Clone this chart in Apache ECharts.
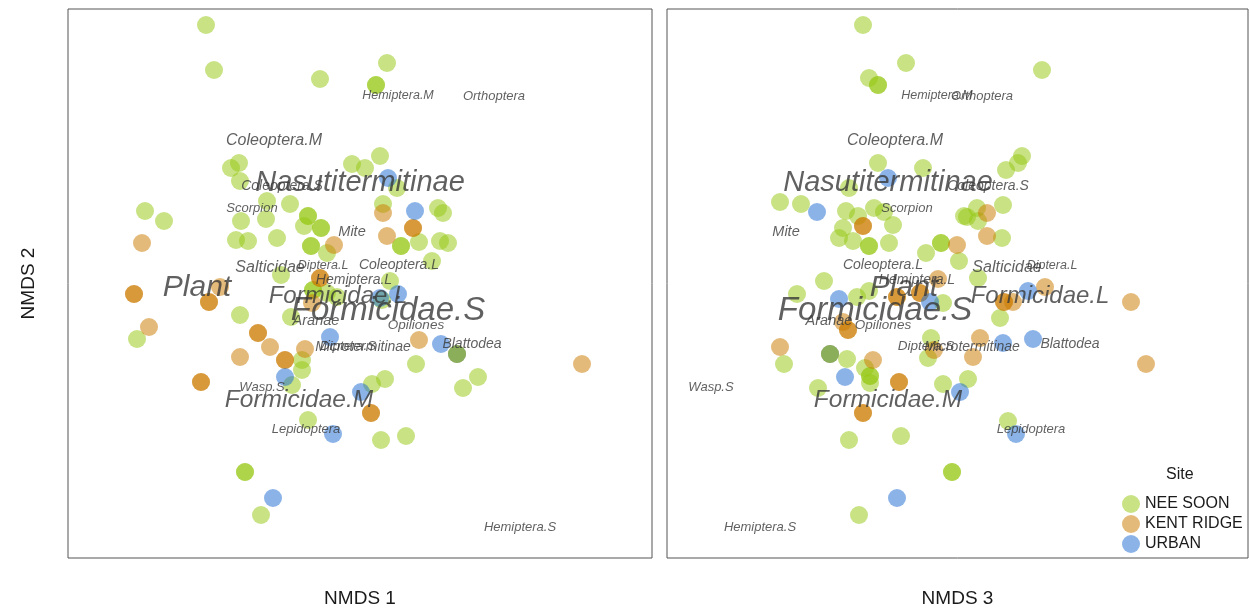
<!DOCTYPE html>
<html>
<head>
<meta charset="utf-8">
<title>NMDS ordination by site</title>
<script src="https://cdn.jsdelivr.net/npm/echarts@6/dist/echarts.min.js"></script>
<style>
  html, body { margin: 0; padding: 0; background: #ffffff; }
  #chart { width: 1250px; height: 609px; }
</style>
</head>
<body>
<div id="chart"></div>
<script>
// ---- Site scores: [NMDS axis, NMDS 2] ----
const siteNames = ['NEE SOON', 'KENT RIDGE', 'URBAN'];

// Panel 1: NMDS 1 vs NMDS 2
const neeSoon12 = [
  [-1.54, 2.59], [-1.46, 2.14], [-0.40, 2.05], [0.27, 2.21], [0.16, 1.99], [0.16, 1.99],
  [-1.29, 1.16], [-1.21, 1.21], [-1.20, 1.03], [-0.08, 1.20], [0.05, 1.16], [0.20, 1.28],
  [0.37, 0.96], [-2.15, 0.73], [-1.96, 0.63], [-0.93, 0.83], [-0.70, 0.80], [-1.19, 0.63],
  [-0.94, 0.65], [-0.52, 0.68], [-0.52, 0.68], [-0.56, 0.58], [-0.39, 0.56], [-0.39, 0.56],
  [-1.24, 0.44], [-1.12, 0.43], [-0.83, 0.46], [-0.49, 0.38], [-0.49, 0.38], [-0.33, 0.31],
  [0.23, 0.80], [0.78, 0.76], [0.83, 0.71], [0.41, 0.38], [0.41, 0.38], [0.59, 0.42],
  [0.80, 0.43], [0.88, 0.41], [0.72, 0.23], [-0.79, 0.09], [0.30, 0.03], [-0.47, -0.06],
  [-0.47, -0.06], [-0.33, -0.09], [-0.23, -0.13], [0.22, -0.16], [-1.20, -0.31], [-0.69, -0.33],
  [-2.23, -0.55], [-0.58, -0.76], [-0.58, -0.86], [-0.68, -1.01], [0.56, -0.80], [1.18, -0.93],
  [1.03, -1.04], [0.12, -1.00], [0.25, -0.95], [-0.52, -1.36], [0.21, -1.56], [0.46, -1.52],
  [-1.15, -1.88], [-1.15, -1.88], [-0.99, -2.31]
];
const kentRidge12 = [
  [-2.18, 0.41], [-0.26, 0.39], [0.23, 0.71], [0.53, 0.56], [0.53, 0.56], [0.27, 0.48],
  [-2.26, -0.10], [-2.26, -0.10], [-1.51, -0.18], [-1.51, -0.18], [-1.40, -0.03], [-2.11, -0.43],
  [-1.02, -0.49], [-1.02, -0.49], [-0.90, -0.63], [-1.20, -0.73], [-1.59, -0.98], [-1.59, -0.98],
  [-0.75, -0.76], [-0.75, -0.76], [-0.55, -0.65], [-0.40, 0.06], [-0.40, 0.06], [-0.48, -0.19],
  [0.59, -0.56], [2.22, -0.80], [0.11, -1.29], [0.11, -1.29], [0.97, -0.70]
];
const urban12 = [
  [0.28, 1.06], [0.55, 0.73], [0.38, -0.10], [0.20, -0.14], [-0.30, -0.53], [0.81, -0.60],
  [-0.75, -0.93], [0.01, -1.08], [-0.27, -1.50], [-0.87, -2.14], [0.97, -0.70]
];
const neeSoonLate12 = [[0.97, -0.70]];

// Panel 2: NMDS 3 vs NMDS 2
const neeSoon32 = [
  [-0.95, 2.59], [-0.52, 2.21], [-0.89, 2.06], [-0.80, 1.99], [-0.80, 1.99], [0.84, 2.14],
  [-0.80, 1.21], [-0.35, 1.16], [0.64, 1.28], [0.60, 1.21], [0.48, 1.14], [-1.09, 0.96],
  [-1.78, 0.82], [-1.57, 0.80], [-1.12, 0.73], [-1.00, 0.68], [-0.84, 0.76], [-0.74, 0.72],
  [-0.65, 0.59], [-1.15, 0.56], [-1.19, 0.46], [-1.05, 0.43], [-0.89, 0.38], [-0.89, 0.38],
  [-0.69, 0.41], [-0.32, 0.31], [-0.17, 0.41], [-0.17, 0.41], [0.01, 0.23], [0.06, 0.68],
  [-1.34, 0.03], [0.45, 0.79], [0.19, 0.76], [0.09, 0.67], [0.20, 0.63], [0.44, 0.46],
  [0.20, 0.06], [-1.61, -0.10], [-1.01, -0.13], [-0.89, -0.07], [-0.15, -0.19], [0.42, -0.34],
  [-1.74, -0.80], [-1.11, -0.75], [-0.93, -0.84], [-0.88, -0.92], [-0.88, -0.92], [-0.88, -0.99],
  [-1.40, -1.04], [-0.27, -0.54], [-0.30, -0.74], [-0.15, -1.00], [0.10, -0.95], [-1.09, -1.56],
  [-0.57, -1.52], [0.50, -1.37], [-0.06, -1.88], [-0.06, -1.88], [-0.99, -2.31]
];
const kentRidge32 = [
  [-0.95, 0.58], [-0.95, 0.58], [-0.01, 0.39], [0.29, 0.71], [0.29, 0.48], [-0.20, 0.05],
  [-0.61, -0.13], [-0.61, -0.13], [-0.38, -0.09], [-0.38, -0.09], [0.87, -0.03], [0.46, -0.18],
  [0.46, -0.18], [0.55, -0.18], [1.73, -0.18], [-1.10, -0.46], [-1.10, -0.46], [-1.15, -0.38],
  [-1.78, -0.63], [-0.85, -0.76], [-0.59, -0.98], [-0.59, -0.98], [-0.95, -1.29], [-0.95, -1.29],
  [-0.24, -0.66], [0.22, -0.54], [0.15, -0.73], [1.88, -0.80], [-1.28, -0.70]
];
const urban32 = [
  [-0.70, 1.06], [-1.41, 0.72], [-1.19, -0.15], [-0.28, -0.18], [0.70, -0.07], [-1.13, -0.93],
  [0.02, -1.08], [0.45, -0.59], [0.75, -0.55], [0.58, -1.50], [-0.61, -2.14], [-1.28, -0.70]
];
const neeSoonLate32 = [[-1.28, -0.70]];

// ---- Taxon scores ----
const taxa = [
  'Hemiptera.M', 'Orthoptera', 'Coleoptera.M', 'Nasutitermitinae', 'Coleoptera.S', 'Scorpion',
  'Mite', 'Salticidae', 'Diptera.L', 'Coleoptera.L', 'Hemiptera.L', 'Plant',
  'Formicidae.L', 'Formicidae.S', 'Aranae', 'Opiliones', 'Diptera.S', 'Microtermitinae',
  'Blattodea', 'Wasp.S', 'Formicidae.M', 'Lepidoptera', 'Hemiptera.S'
];
const taxaNmds1 = [0.38, 1.34, -0.86, 0.00, -0.78, -1.08, -0.08, -0.90, -0.37, 0.39, -0.06, -1.63,
  -0.22, 0.28, -0.44, 0.56, -0.12, 0.03, 1.12, -0.98, -0.61, -0.54, 1.60];
const taxaNmds2 = [1.88, 1.88, 1.43, 1.01, 0.98, 0.76, 0.52, 0.16, 0.18, 0.19, 0.04, -0.04,
  -0.12, -0.27, -0.37, -0.41, -0.62, -0.63, -0.60, -1.03, -1.16, -1.45, -2.43];
const taxaNmds3 = [-0.21, 0.24, -0.63, -0.70, 0.30, -0.51, -1.72, 0.49, 0.94, -0.75, -0.41, -0.54,
  0.82, -0.83, -1.29, -0.75, -0.32, 0.14, 1.12, -2.47, -0.70, 0.73, -1.98];

// ---- Styling ----
const taxonFontSize = [12.5, 13, 16, 29, 14, 13, 14.5, 16, 12.5, 14, 14, 30,
  24, 33, 14.5, 13.5, 13.5, 14, 14, 13, 24.5, 13, 13];
const siteColors = {
  'NEE SOON': 'rgba(150,200,20,0.65)',
  'KENT RIDGE': 'rgba(204,122,0,0.65)',
  'URBAN': 'rgba(32,109,209,0.65)'
};
const FONT = '"Liberation Sans", Arial, sans-serif';

function siteSeries(name, data, panel) {
  return {
    type: 'scatter', name: name, xAxisIndex: panel, yAxisIndex: panel,
    data: data, symbol: 'circle', symbolSize: 18, silent: true, z: 2,
    itemStyle: { color: siteColors[name] }
  };
}

function taxonSeries(xs, panel) {
  return {
    type: 'scatter', name: 'taxa' + panel, xAxisIndex: panel, yAxisIndex: panel,
    symbolSize: 1, silent: true, z: 5,
    itemStyle: { color: 'rgba(0,0,0,0)' },
    label: {
      show: true, position: 'inside', formatter: '{b}', color: '#383838',
      fontStyle: 'italic', fontFamily: FONT, align: 'center', verticalAlign: 'middle'
    },
    data: taxa.map((t, i) => ({
      name: t, value: [xs[i], taxaNmds2[i]], label: { fontSize: taxonFontSize[i] }
    }))
  };
}

const hiddenAxis = {
  type: 'value', axisLine: { show: false }, axisTick: { show: false },
  axisLabel: { show: false }, splitLine: { show: false }
};
const axisNameStyle = { fontSize: 19, color: '#1a1a1a', fontFamily: FONT };

const option = {
  animation: false,
  backgroundColor: '#ffffff',
  grid: [
    { left: 68, top: 9, width: 584, height: 549, show: true, borderColor: '#555', borderWidth: 1,
      backgroundColor: '#fff', containLabel: false, outerBoundsMode: 'none' },
    { left: 667, top: 9, width: 581, height: 549, show: true, borderColor: '#555', borderWidth: 1,
      backgroundColor: '#fff', containLabel: false, outerBoundsMode: 'none' }
  ],
  xAxis: [
    Object.assign({}, hiddenAxis, { gridIndex: 0, min: -2.92, max: 2.92, name: 'NMDS 1', nameLocation: 'middle', nameGap: 31, nameTextStyle: axisNameStyle }),
    Object.assign({}, hiddenAxis, { gridIndex: 1, min: -2.91, max: 2.90, name: 'NMDS 3', nameLocation: 'middle', nameGap: 31, nameTextStyle: axisNameStyle })
  ],
  yAxis: [
    Object.assign({}, hiddenAxis, { gridIndex: 0, min: -2.74, max: 2.75, name: 'NMDS 2', nameLocation: 'middle', nameGap: 30, nameRotate: 90, nameTextStyle: axisNameStyle }),
    Object.assign({}, hiddenAxis, { gridIndex: 1, min: -2.74, max: 2.75 })
  ],
  legend: {
    data: siteNames, orient: 'vertical', left: 1117, top: 490,
    itemWidth: 18, itemHeight: 18, itemGap: 2, icon: 'circle',
    selectedMode: false,
    textStyle: { fontSize: 16, color: '#1a1a1a', fontFamily: FONT }
  },
  graphic: [
    { type: 'text', left: 1166, top: 467, style: { text: 'Site', fontSize: 16, fill: '#1a1a1a', fontFamily: FONT } }
  ],
  series: [
    siteSeries('NEE SOON', neeSoon12, 0),
    siteSeries('KENT RIDGE', kentRidge12, 0),
    siteSeries('URBAN', urban12, 0),
    siteSeries('NEE SOON', neeSoonLate12, 0),
    siteSeries('NEE SOON', neeSoon32, 1),
    siteSeries('KENT RIDGE', kentRidge32, 1),
    siteSeries('URBAN', urban32, 1),
    siteSeries('NEE SOON', neeSoonLate32, 1),
    taxonSeries(taxaNmds1, 0),
    taxonSeries(taxaNmds3, 1)
  ]
};

const chart = echarts.init(document.getElementById('chart'), null, { renderer: 'canvas' });
chart.setOption(option);
</script>
</body>
</html>
